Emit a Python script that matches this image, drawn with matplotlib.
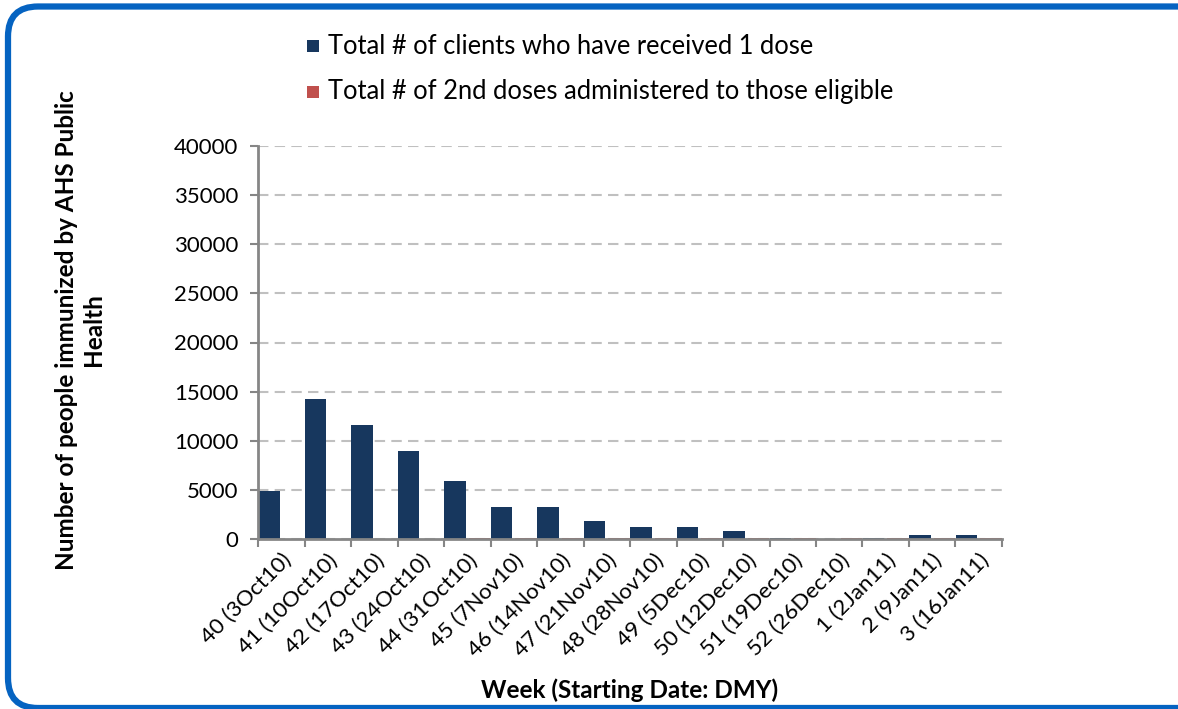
import matplotlib
matplotlib.use("Agg")
import matplotlib.pyplot as plt
from matplotlib.patches import FancyBboxPatch, Rectangle
import numpy as np

weeks = ["40 (3Oct10)", "41 (10Oct10)", "42 (17Oct10)", "43 (24Oct10)", "44 (31Oct10)",
         "45 (7Nov10)", "46 (14Nov10)", "47 (21Nov10)", "48 (28Nov10)", "49 (5Dec10)",
         "50 (12Dec10)", "51 (19Dec10)", "52 (26Dec10)", "1 (2Jan11)", "2 (9Jan11)", "3 (16Jan11)"]
first_dose = [4850, 14200, 11600, 8950, 5900, 3230, 3230, 1800, 1190, 1190, 780, 150, 0, 150, 410, 410]
second_dose = [0, 0, 0, 0, 120, 120, 120, 120, 120, 120, 120, 120, 120, 120, 120, 120]
series_names = ["Total # of clients who have received 1 dose",
                "Total # of 2nd doses administered to those eligible"]
y_ticks = [0, 5000, 10000, 15000, 20000, 25000, 30000, 35000, 40000]

plt.rcParams['font.family'] = ['Lato', 'DejaVu Sans']

W, H = 1178, 709
fig = plt.figure(figsize=(W / 100, H / 100), dpi=100)

# rounded blue frame, drawn in an invisible full-figure axes with pixel data units
fax = fig.add_axes([0, 0, 1, 1], zorder=10)
fax.set_xlim(0, W)
fax.set_ylim(0, H)
fax.axis('off')
frame = FancyBboxPatch((8, 1), 1250, 701.5,
                       boxstyle="round,pad=0,rounding_size=30",
                       facecolor='none', edgecolor='#0563C1', linewidth=4.5,
                       clip_on=False)
fax.add_patch(frame)

ax = fig.add_axes([258 / W, (H - 539) / H, 744 / W, 393 / H])
x = np.arange(len(weeks))
blue = '#17375E'
red = '#C0504D'
ax.bar(x - 0.26, first_dose, width=0.46, color=blue, zorder=3)
ax.bar(x + 0.26, second_dose, width=0.46, color=red, zorder=3)

ax.set_xlim(-0.5, len(weeks) - 0.5)
ax.set_ylim(0, 40000)
ax.set_yticks(y_ticks)
ax.set_yticklabels([str(v) for v in y_ticks], fontsize=16)
ax.set_xticks(x)
ax.set_xticklabels(weeks, rotation=45, ha='right', va='top', rotation_mode='anchor', fontsize=16)
ax.set_xticks(np.arange(len(weeks) + 1) - 0.5, minor=True)
ax.tick_params(axis='x', which='major', length=0, pad=8)
ax.tick_params(axis='x', which='minor', length=6, width=1.5, color='#868686')
ax.tick_params(axis='y', length=6, width=1.5, color='#868686', pad=8)

for s in ['top', 'right']:
    ax.spines[s].set_visible(False)
for s in ['left', 'bottom']:
    ax.spines[s].set_color('#868686')
    ax.spines[s].set_linewidth(2)
    ax.spines[s].set_zorder(4)

ax.yaxis.grid(True, color='#C0C0C0', linestyle=(0, (5, 3)), linewidth=1.5, zorder=0)
ax.set_axisbelow(True)

ylab = ax.set_ylabel("Number of people immunized by AHS Public\nHealth", fontsize=17.5,
                     fontweight='bold', linespacing=1.25)
ylab.set_va('center')
ax.yaxis.set_label_coords((80 - 258) / 744, (H - 330 - 170) / 393)
xlab = ax.set_xlabel("Week (Starting Date: DMY)", fontsize=17.5, fontweight='bold')
xlab.set_va('center')
ax.xaxis.set_label_coords((630 - 258) / 744, (H - 690 - 170) / 393)

# legend
for i, (name, col) in enumerate(zip(series_names, [blue, red])):
    yc = 46 + i * 46
    fig.patches.append(Rectangle((307 / W, (H - yc - 6) / H), 12 / W, 12 / H,
                                 transform=fig.transFigure, facecolor=col, edgecolor='none'))
    fig.text(328 / W, (H - yc) / H, name, fontsize=18.4, va='center', ha='left')

fig.savefig("out.png", dpi=100)
